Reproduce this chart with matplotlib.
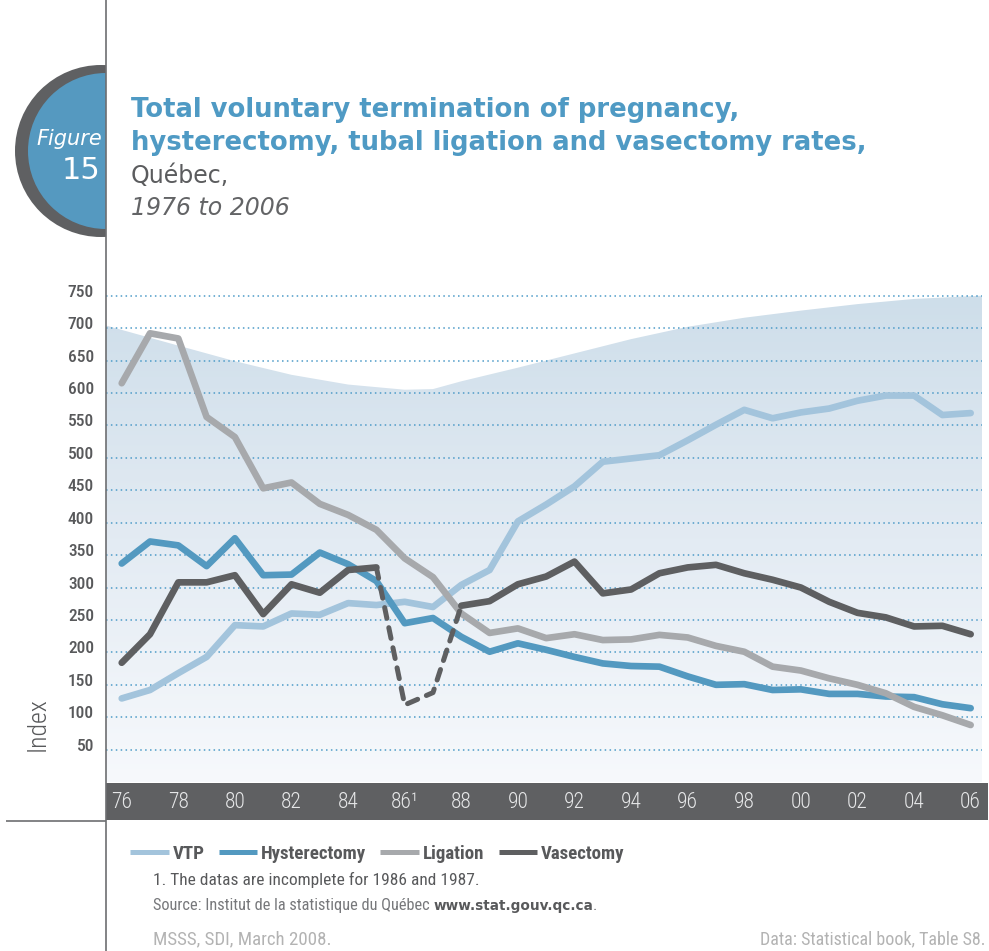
import numpy as np
import matplotlib
matplotlib.use('Agg')
import matplotlib.pyplot as plt
from matplotlib import font_manager as fm
from matplotlib.patches import Circle, Rectangle
from matplotlib.lines import Line2D
from matplotlib.colors import LinearSegmentedColormap
from matplotlib.transforms import ScaledTranslation

# ---------------- data ----------------
years = list(range(1976, 2007))
vtp = [129, 142, 168, 193, 242, 240, 260, 258, 276, 273, 278, 270, 304, 327, 402, 428,
       456, 494, 499, 504, 527, 551, 574, 561, 570, 576, 588, 596, 596, 566, 569]
hysterectomy = [337, 371, 365, 333, 376, 319, 320, 354, 336, 310, 245, 253, 224, 201, 214, 204,
                193, 183, 179, 178, 163, 150, 151, 142, 143, 136, 136, 132, 131, 120, 114]
ligation = [615, 692, 684, 563, 532, 453, 462, 429, 412, 389, 345, 316, 260, 230, 237, 222,
            228, 219, 220, 227, 223, 210, 201, 178, 172, 160, 150, 137, 116, 103, 88]
vasectomy = [184, 228, 308, 308, 319, 259, 305, 292, 327, 331, 119, 138, 272, 279, 305, 317,
             340, 291, 297, 322, 331, 335, 322, 312, 300, 278, 261, 254, 240, 241, 228]
series_names = ['VTP', 'Hysterectomy', 'Ligation', 'Vasectomy']
incomplete_years = [1986, 1987]
xtick_years = list(range(1976, 2007, 2))
xtick_labels = ['76', '78', '80', '82', '84', '86\u00b9', '88', '90', '92', '94', '96', '98',
                '00', '02', '04', '06']
ytick_values = list(range(50, 751, 50))
# decorative backdrop outline (top edge of the shaded area)
backdrop_years = [1975.445, 1978, 1980, 1982, 1984, 1986, 1987, 1988, 1990, 1992, 1994, 1996,
                  1998, 2000, 2002, 2004, 2006.40]
backdrop_top = [704, 673, 649, 628, 613, 605, 606, 618, 639, 661, 683, 702, 716, 727, 737, 745, 750]

# ---------------- fonts ----------------
names = {f.name for f in fm.fontManager.ttflist}
NARROW = None
for cand in ['Liberation Sans Narrow', 'Roboto Condensed', 'Arial Narrow', 'Open Sans Condensed']:
    if cand in names:
        NARROW = cand
        break
if NARROW is not None:
    NF = dict(family=NARROW)
    nscale = 1.0
else:
    NF = dict(family='Roboto' if 'Roboto' in names else 'DejaVu Sans')
    nscale = 0.88
HUM = 'DejaVu Sans'

W, H = 989, 951
fig = plt.figure(figsize=(W / 100, H / 100), dpi=100)

C_VTP = '#a3c4dc'
C_HYS = '#5399c0'
C_LIG = '#a7a9ac'
C_VAS = '#5e5f61'
GRAY_TXT = '#58595b'

# ---------------- main axes ----------------
X0, X1 = 1975.445, 2006.40
ax = fig.add_axes([106 / W, 1 - 782.1 / H, (982 - 106) / W, (782.1 - 289.2) / H], zorder=1)
ax.set_facecolor('none')

grad = np.linspace(0, 1, 256).reshape(-1, 1)
cmap = LinearSegmentedColormap.from_list('bg', ['#f7f9fc', '#e3ebf3', '#cedeea'])
im = ax.imshow(grad, extent=[X0, X1, 0, 750], origin='lower', aspect='auto', cmap=cmap,
               zorder=0, interpolation='bilinear')
fb = ax.fill_between(backdrop_years, 0, backdrop_top, facecolor='none', edgecolor='none')
im.set_clip_path(fb.get_paths()[0], transform=ax.transData)

ax.set_xlim(X0, X1)
ax.set_ylim(0, 760)

ax.set_yticks(ytick_values)
ax.set_yticklabels([str(v) for v in ytick_values])
ax.grid(axis='y', color='#4d9bc8', linestyle=(0, (1, 2.2)), linewidth=1.1)
ax.grid(axis='x', visible=False)
for s in ax.spines.values():
    s.set_visible(False)
ax.tick_params(axis='y', length=0, pad=8.6, labelcolor=GRAY_TXT)
for t in ax.get_yticklabels():
    t.set_fontproperties(fm.FontProperties(size=12.5 * nscale, weight='medium', **NF))
    t.set_transform(t.get_transform() + ScaledTranslation(0, 5 / 100, fig.dpi_scale_trans))

ax.set_xticks(xtick_years)
ax.set_xticklabels(xtick_labels)
ax.tick_params(axis='x', length=0, pad=14.4, labelcolor='#e6e7e8')
for t in ax.get_xticklabels():
    t.set_fontproperties(fm.FontProperties(size=15.5 * nscale, weight='light', **NF))
    t.set_va('center')

# dark band behind x labels
ax.add_patch(Rectangle((0, -0.0779), 1.00685, 0.0767, transform=ax.transAxes,
                       clip_on=False, facecolor='#5f6062', edgecolor='none', zorder=0.5))

LW = 4.8
common = dict(lw=LW, solid_capstyle='round', solid_joinstyle='round')
yrs = np.array(years)
ax.plot(yrs, vtp, color=C_VTP, zorder=3, **common)
ax.plot(yrs, hysterectomy, color=C_HYS, zorder=4, **common)
ax.plot(yrs, ligation, color=C_LIG, zorder=5, **common)
vas = np.array(vasectomy)
before = yrs <= incomplete_years[0] - 1
gap = (yrs >= incomplete_years[0] - 1) & (yrs <= incomplete_years[-1] + 1)
after = yrs >= incomplete_years[-1] + 1
ax.plot(yrs[before], vas[before], color=C_VAS, zorder=6, **common)
ax.plot(yrs[after], vas[after], color=C_VAS, zorder=6, **common)
ax.plot(yrs[gap], vas[gap], color=C_VAS, zorder=6, lw=3.6, linestyle=(0, (2.2, 1.9)),
        dash_capstyle='round', dash_joinstyle='round')

# ---------------- overlay (pixel coordinates) ----------------
ov = fig.add_axes([0, 0, 1, 1], zorder=5)
ov.set_xlim(0, W)
ov.set_ylim(H, 0)
ov.axis('off')

clip = Rectangle((0, 0), 106, H, transform=ov.transData)
c1 = Circle((101, 151), 86, facecolor='#5f6062', edgecolor='none')
ov.add_patch(c1)
c1.set_clip_path(clip)
c2 = Circle((106, 151), 78, facecolor='#5599c0', edgecolor='none')
ov.add_patch(c2)
c2.set_clip_path(clip)

ov.plot([106, 106], [0, H], color='#6d6e71', lw=1.2, solid_capstyle='butt')
ov.plot([6, 106], [820.5, 820.5], color='#6d6e71', lw=1.2, solid_capstyle='butt')

ov.text(102, 145, 'Figure', ha='right', va='baseline', fontsize=15, style='italic',
        color='white', family=HUM)
ov.text(100.5, 179, '15', ha='right', va='baseline', fontsize=22, color='white', family=HUM)

TITLE_C = '#4f9ac4'
ov.text(131, 116.7, 'Total voluntary termination of pregnancy,', ha='left', va='baseline',
        fontsize=18.6, weight='bold', color=TITLE_C, family=HUM)
ov.text(131, 150, 'hysterectomy, tubal ligation and vasectomy rates,', ha='left', va='baseline',
        fontsize=18.6, weight='bold', color=TITLE_C, family=HUM)
ov.text(131, 183, 'Québec,', ha='left', va='baseline', fontsize=17, color='#5b5c5e', family=HUM)
ov.text(131, 215, '1976 to 2006', ha='left', va='baseline', fontsize=17, style='italic',
        color='#636466', family=HUM)

ov.text(38, 724, 'Index', rotation=90, ha='center', va='center', fontsize=18.5,
        color=GRAY_TXT, family=NF['family'], weight='light')

# legend
handles = [Line2D([], [], color=c, lw=3.6, solid_capstyle='butt')
           for c in [C_VTP, C_HYS, C_LIG, C_VAS]]
leg = fig.legend(handles, series_names, loc='center left', bbox_to_anchor=(130 / W, 1 - 854 / H),
                 ncol=4, frameon=False, handlelength=2.05, handletextpad=0.2,
                 columnspacing=0.75, borderpad=0, borderaxespad=0,
                 prop=fm.FontProperties(size=13.6 * nscale, weight='bold', **NF))
for t in leg.get_texts():
    t.set_color(GRAY_TXT)

# footnotes
ov.text(153, 885, '1. The datas are incomplete for 1986 and 1987.', ha='left', va='baseline',
        color=GRAY_TXT, fontproperties=fm.FontProperties(size=12.5 * nscale, **NF))
src = ov.text(153, 910, 'Source: Institut de la statistique du Québec ', ha='left', va='baseline',
              color='#77787b', fontproperties=fm.FontProperties(size=11.8 * nscale, **NF))
url = ov.annotate('www.stat.gouv.qc.ca', xy=(1, 0), xycoords=src, ha='left', va='bottom',
                  color=GRAY_TXT, fontproperties=fm.FontProperties(size=9.8, weight='bold', family=HUM))
ov.annotate('.', xy=(1, 0), xycoords=url, ha='left', va='bottom',
            color='#77787b', fontproperties=fm.FontProperties(size=11.8 * nscale, **NF))
ov.text(153, 944, 'MSSS, SDI, March 2008.', ha='left', va='baseline', color='#b3b3b3',
        fontproperties=fm.FontProperties(size=13.6 * nscale, **NF))
ov.text(985, 944, 'Data: Statistical book, Table S8.', ha='right', va='baseline', color='#b3b3b3',
        fontproperties=fm.FontProperties(size=13 * nscale, **NF))

fig.savefig('out.png', dpi=100)
